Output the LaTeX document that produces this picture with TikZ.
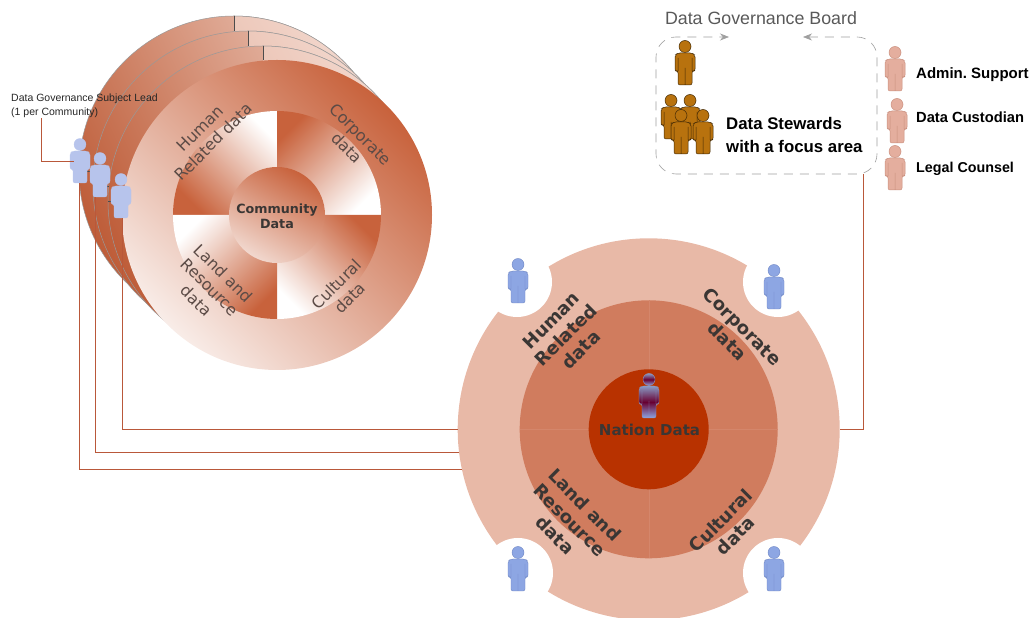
\documentclass[tikz,border=0pt]{standalone}
\usepackage{fontspec}
\setmainfont{Liberation Sans}
\newfontfamily\wedgefont{DejaVu Sans}
\usetikzlibrary{positioning, arrows.meta}
\definecolor{rustdark}{HTML}{C8623C}
\definecolor{rustmid}{HTML}{D07C5E}
\definecolor{rustpale}{HTML}{E8B9A7}
\definecolor{rustcore}{HTML}{B83200}
\definecolor{linkred}{HTML}{B9583A}
\definecolor{wedgeink}{HTML}{5C4B46}
\definecolor{nationink}{HTML}{3A3634}
\definecolor{leadblue}{HTML}{B7C4EC}
\definecolor{stewardblue}{HTML}{8DA6E3}
\definecolor{stewardedge}{HTML}{6E86C4}
\definecolor{boardorange}{HTML}{B8720E}
\definecolor{supportpink}{HTML}{E4AE9E}
\definecolor{supportedge}{HTML}{C98F7E}
\tikzset{
    x=1pt, y=1pt,
    backdisk/.style={draw=gray!80, line width=0.5pt, top color=rustpale!75!white, bottom color=rustdark!95!black, shading angle=-65},
    backwedge/.style={top color=rustpale!50!white, bottom color=rustpale!95!white, shading angle=-60},
    tick/.style={draw=black!70, line width=0.5pt},
    linkline/.style={draw=linkred, line width=0.7pt},
    personbox/.style={minimum width=20pt, minimum height=45pt, inner sep=0pt, outer sep=0pt},
    wedgelabel/.style={font=\wedgefont\fontsize{16}{19}\selectfont, text=wedgeink, align=center},
    nationlabel/.style={font=\wedgefont\bfseries\fontsize{18}{21}\selectfont, text=nationink, align=center},
    sidelabel/.style={font=\bfseries\fontsize{14.7}{18}\selectfont, anchor=west, inner sep=0pt},
    person/.pic={
        \path[pic actions] (0,16.5) circle[radius=6];
        \path[pic actions, rounded corners=2pt] (-10,8) -- (-7,10) -- (7,10) -- (10,8) -- (10,-8) -- (7,-8) -- (7,-22)
            -- (-7,-22) -- (-7,-8) -- (-10,-8) -- cycle
            (0,-5) -- (0,-22) (7,5) -- (7,-8) (-7,5) -- (-7,-8);
    }
}
\begin{document}
\begin{tikzpicture}
    \useasboundingbox (0,0) rectangle (1031,618);
    % community disks at the back
    \foreach \cx/\cy in {234/447, 248/432, 263/417} {
        \draw[backdisk] (\cx,\cy) circle[radius=155];
        \shade[backwedge] (\cx,\cy) -- ++(90:155) arc[start angle=90, end angle=-20, radius=155] -- cycle;
        \draw[draw=gray!80, line width=0.5pt] (\cx,\cy) ++(90:155) arc[start angle=90, end angle=-20, radius=155];
    }
    \draw[tick] (234,602) -- (234,587);
    \draw[tick] (248,587) -- (248,572);
    \draw[tick] (263,572) -- (263,558);
    \draw[tick] (79,447) -- (94,447);
    \draw[tick] (93,432) -- (109,432);
    \draw[tick] (108,417) -- (123,417);
    % community disk in front
    \shade[top color=rustdark, bottom color=rustdark!12!white, shading angle=-45] (277,403) circle[radius=155];
    \shade[top color=white, bottom color=rustdark, shading angle=-45] (277,403) -- ++(90:104) arc[start angle=90, end angle=180, radius=104] -- cycle;
    \shade[top color=rustdark, bottom color=white, shading angle=45] (277,403) -- ++(0:104) arc[start angle=0, end angle=90, radius=104] -- cycle;
    \shade[top color=rustdark, bottom color=white, shading angle=-45] (277,403) -- ++(-90:104) arc[start angle=-90, end angle=0, radius=104] -- cycle;
    \shade[top color=white, bottom color=rustdark, shading angle=45] (277,403) -- ++(180:104) arc[start angle=180, end angle=270, radius=104] -- cycle;
    \shade[top color=rustdark, bottom color=rustdark!25!white, shading angle=-30] (277,403) circle[radius=48];
    \node[font=\wedgefont\bfseries\fontsize{12.7}{15}\selectfont, text=nationink, align=center] (communitydata) at (277,402) {Community\\Data};
    \node[wedgelabel, rotate=45] (humancomm) at (207,483) {Human\\Related data};
    \node[wedgelabel, rotate=-45] (corpcomm) at (354,477) {Corporate\\data};
    \node[wedgelabel, rotate=-45] (landcomm) at (210,331) {Land and\\Resource\\data};
    \node[wedgelabel, rotate=45] (cultcomm) at (343,327) {Cultural\\data};
    % nation disk
    \node[circle, fill=rustpale, minimum size=382pt, inner sep=0pt, outer sep=0pt] (nationring) at (648.7,188.7) {};
    \foreach \nx/\ny in {517/336, 778/336, 518/45, 778/45}
        \fill[white] (\nx,\ny) circle[radius=35];
    \node[circle, fill=rustmid, minimum size=258pt, inner sep=0pt] (nationmid) at (nationring) {};
    \draw[rustmid!92!white, line width=0.4pt] (nationmid.north) -- (nationmid.south) (nationmid.west) -- (nationmid.east);
    \node[circle, fill=rustcore, minimum size=120pt, inner sep=0pt] (nationcore) at (nationring) {};
    \node[font=\wedgefont\bfseries\fontsize{15}{18}\selectfont, text=nationink] (nationdata) at (649.5,188) {Nation Data};
    \node[nationlabel, rotate=45] (humannat) at (566,283) {Human\\Related\\data};
    \node[nationlabel, rotate=-45] (corpnat) at (735,284) {Corporate\\data};
    \node[nationlabel, rotate=-45] (landnat) at (570,98) {Land and\\Resource\\data};
    \node[nationlabel, rotate=45] (cultnat) at (728,90) {Cultural\\data};
    % people round the nation disk
    \node[personbox] (steward1) at (518,337) {};
    \node[personbox] (steward2) at (774,331) {};
    \node[personbox] (steward3) at (518,49) {};
    \node[personbox] (steward4) at (774,49) {};
    \foreach \who in {steward1, steward2, steward3, steward4}
        \pic[fill=stewardblue, draw=stewardedge, line width=0.4pt] at (\who) {person};
    \node[personbox] (nationlead) at (649,222) {};
    \pic[top color=stewardblue!70!gray, bottom color=stewardblue, middle color=violet!65!red!60!black, draw=stewardblue!70!gray, line width=0.4pt] at (nationlead) {person};
    % subject leads
    \node[personbox] (lead1) at (80,457) {};
    \node[personbox] (lead2) at (100,443) {};
    \node[personbox] (lead3) at (121,422) {};
    \foreach \who in {lead1, lead2, lead3}
        \pic[fill=leadblue, draw=leadblue, line width=0.3pt] at (\who) {person};
    \node[inner sep=0pt, align=left, anchor=north west, font=\fontsize{10.5}{14}\selectfont, text=black!85] (leadlabel) at (11,524) {Data Governance Subject Lead\\(1 per Community)};
    \draw[linkline] ([xshift=30pt]leadlabel.south west) |- ([xshift=4pt]lead1.west);
    \draw[linkline] ([xshift=-1pt]lead1.south) |- (nationring.192.9);
    \draw[linkline] ([xshift=-5pt]lead2.south) |- (nationring.187.9);
    \draw[linkline] ([xshift=1pt]lead3.south) |- (nationring.west);
    % governance board
    \node[text=black!65, font=\fontsize{17.8}{20}\selectfont] (boardtitle) at (761,600) {Data Governance Board};
    \node[minimum width=221pt, minimum height=137pt, inner sep=0pt, outer sep=0pt] (board) at (766.5,512.5) {};
    \draw[draw=gray!75, line width=0.6pt, dash pattern=on 9pt off 7pt, rounded corners=20pt, {Stealth[length=9pt, width=7pt]}-{Stealth[length=9pt, width=7pt]}]
        (803,581) -- (board.north east) -- (board.south east) -- (board.south west) -- (board.north west) -- (729,581);
    \node[personbox] (chair) at (685,555) {};
    \node[personbox] (steward5) at (671,501) {};
    \node[personbox] (steward6) at (690,501) {};
    \node[personbox] (steward7) at (681,486) {};
    \node[personbox] (steward8) at (703,486) {};
    \foreach \who in {chair, steward5, steward6, steward7, steward8}
        \pic[fill=boardorange, draw=black!65!boardorange, line width=0.5pt] at (\who) {person};
    \node[inner sep=0pt, align=left, anchor=west, font=\bfseries\fontsize{16.8}{23}\selectfont] (stewardtext) at (726,482.5) {Data Stewards\\with a focus area};
    \node[personbox] (admin) at (895,549) {};
    \node[personbox] (custodian) at (897,497) {};
    \node[personbox] (counsel) at (895,450) {};
    \foreach \who in {admin, custodian, counsel}
        \pic[fill=supportpink, draw=supportedge, line width=0.5pt] at (\who) {person};
    \node[sidelabel, font=\bfseries\fontsize{15}{18}\selectfont] (adminlabel) at (916,543) {Admin.\ Support};
    \node[sidelabel] (custodianlabel) at (916,501) {Data Custodian};
    \node[sidelabel, font=\bfseries\fontsize{14.3}{18}\selectfont] (counsellabel) at (916,449) {Legal Counsel};
    \draw[linkline] ([xshift=96.5pt]board.south) |- (nationring.east);
\end{tikzpicture}
\end{document}
